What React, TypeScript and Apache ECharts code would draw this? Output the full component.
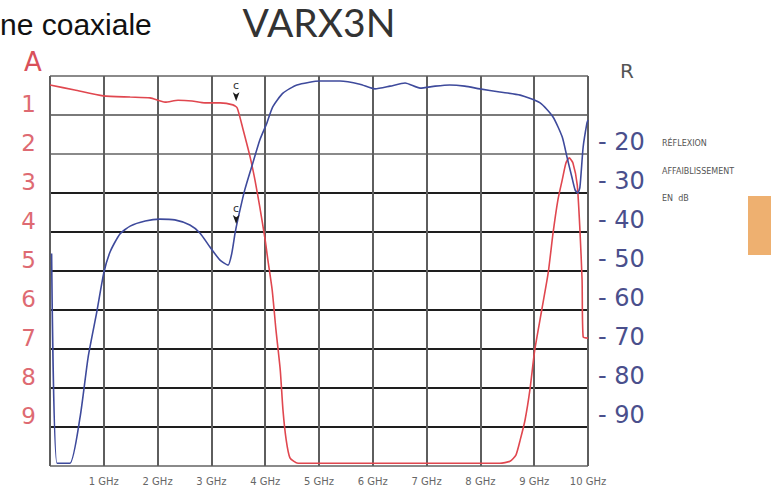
import React, { useEffect, useRef } from 'react';
import * as echarts from 'echarts';

// Frequency ticks (GHz)
const freqTicks = [1, 2, 3, 4, 5, 6, 7, 8, 9, 10];
// Left axis A (attenuation, dB)
const attenuationTicks = [1, 2, 3, 4, 5, 6, 7, 8, 9];
// Right axis R (reflection, dB)
const reflectionTicks = [20, 30, 40, 50, 60, 70, 80, 90];

// Attenuation curve (red): [GHz, A dB]
const attenuationCurve: [number, number][] = [
  [0, 0.23], [0.46, 0.36], [0.99, 0.51], [1.49, 0.54], [1.86, 0.56], [2.14, 0.67],
  [2.38, 0.62], [2.64, 0.64], [2.88, 0.69], [3.16, 0.69], [3.4, 0.74], [3.48, 0.82],
  [3.59, 1.38], [3.72, 2.08], [3.81, 2.67], [3.9, 3.36], [4.0, 4.21], [4.05, 4.72],
  [4.13, 5.49], [4.2, 6.51], [4.28, 7.54], [4.33, 8.56], [4.39, 9.33], [4.46, 9.79],
  [4.61, 9.93], [8.36, 9.93], [8.55, 9.88], [8.66, 9.72], [8.74, 9.33], [8.83, 8.82],
  [8.92, 8.05], [9.01, 7.03], [9.14, 6.0], [9.26, 5.05], [9.35, 4.03], [9.44, 3.18],
  [9.52, 2.67], [9.59, 2.23], [9.65, 2.1], [9.72, 2.23], [9.8, 2.79], [9.85, 3.95],
  [9.89, 5.23], [9.91, 6.69], [10.0, 6.72],
];

// Reflection curve (blue): [GHz, R dB]
const reflectionCurve: [number, number][] = [
  [0.03, 45.5], [0.13, 99.3], [0.37, 99.3], [0.56, 87.4], [0.71, 72.0], [0.87, 60.5],
  [1.0, 50.5], [1.12, 45.0], [1.3, 40.5], [1.49, 38.5], [1.77, 37.2], [2.04, 36.7],
  [2.32, 36.9], [2.6, 38.2], [2.79, 40.3], [2.97, 43.8], [3.16, 47.2], [3.31, 48.5],
  [3.38, 45.4], [3.44, 40.3], [3.49, 36.9], [3.62, 29.2], [3.77, 22.3], [3.9, 16.4],
  [4.03, 12.1], [4.14, 7.9], [4.33, 4.4], [4.59, 2.3], [5.02, 1.3], [5.39, 1.3],
  [5.76, 2.1], [6.04, 3.3], [6.32, 2.6], [6.6, 1.8], [6.88, 3.1], [7.16, 2.6],
  [7.43, 2.3], [7.71, 2.6], [7.99, 3.3], [8.36, 4.1], [8.74, 4.9], [9.11, 6.9],
  [9.35, 10.5], [9.52, 15.6], [9.61, 20.8], [9.7, 25.9], [9.76, 29.2], [9.81, 30.0],
  [9.85, 28.5], [9.91, 18.2], [9.98, 12.1], [10.0, 11.3],
];

// "C" markers
const markerFreq = 3.46;
const markerAttenuation = 0.8;
const markerReflection = 39.5;

const RED = '#e0474f';
const BLUE = '#3e4a9c';

const hGridColors = ['#8a8a8a', '#7a7a7a', '#8a8a8a', '#1e1e1e', '#1e1e1e', '#1e1e1e', '#1e1e1e', '#1e1e1e', '#1e1e1e', '#1e1e1e', '#8a8a8a'];

export default function App() {
  const ref = useRef<HTMLDivElement>(null);
  useEffect(() => {
    document.body.style.margin = '0';
    const chart = echarts.init(ref.current!, null, { renderer: 'svg' });
    const markerStyle = {
      symbol: 'arrow',
      symbolSize: [5, 9],
      symbolRotate: 180,
      symbolOffset: [0, -6],
      itemStyle: { color: '#1a1a1a' },
      label: { show: true, position: 'top', formatter: 'c', fontSize: 11, color: '#333', distance: 1, fontFamily: 'DejaVu Sans' },
    };
    chart.setOption({
      animation: false,
      backgroundColor: '#ffffff',
      grid: { left: 50, right: 183, top: 76, bottom: 26 },
      xAxis: {
        type: 'value', min: 0, max: 10, interval: 1,
        axisLine: { show: false }, axisTick: { show: false },
        splitLine: { show: true, lineStyle: { color: '#5e5e5e', width: 2 } },
        axisLabel: {
          formatter: (v: number) => (freqTicks.includes(v) ? v + ' GHz' : ''),
          color: '#666', fontSize: 10, fontFamily: 'DejaVu Sans', margin: 10,
        },
      },
      yAxis: [
        {
          type: 'value', min: 0, max: 10, interval: 1, inverse: true, position: 'left',
          axisLine: { show: false }, axisTick: { show: false },
          splitLine: { show: true, lineStyle: { color: hGridColors, width: 2 } },
          axisLabel: {
            formatter: (v: number) => (attenuationTicks.includes(v) ? String(v) : ''),
            color: '#de6a72', fontSize: 23, fontFamily: 'DejaVu Sans', verticalAlign: 'bottom', margin: 14,
          },
        },
        {
          type: 'value', min: 0, max: 100, interval: 10, inverse: true, position: 'right',
          axisLine: { show: false }, axisTick: { show: false }, splitLine: { show: false },
          axisLabel: {
            formatter: (v: number) => (reflectionTicks.includes(v) ? '- ' + v : ''),
            color: '#4a4f8c', fontSize: 24, fontFamily: 'DejaVu Sans', verticalAlign: 'bottom', margin: 10,
          },
        },
      ],
      series: [
        {
          type: 'line', name: 'Affaiblissement', yAxisIndex: 0, data: attenuationCurve,
          showSymbol: false, smooth: 0.2, lineStyle: { color: RED, width: 1.6 }, itemStyle: { color: RED },
          markPoint: { ...markerStyle, data: [{ coord: [markerFreq, markerAttenuation] }] },
        },
        {
          type: 'line', name: 'Réflexion', yAxisIndex: 1, data: reflectionCurve,
          showSymbol: false, smooth: 0.2, lineStyle: { color: BLUE, width: 1.6 }, itemStyle: { color: BLUE },
          markPoint: { ...markerStyle, data: [{ coord: [markerFreq, markerReflection] }] },
        },
      ],
      graphic: [
        { type: 'text', left: 0, top: 9, style: { text: 'ne coaxiale', font: '30px "Liberation Sans", Arial, sans-serif', fill: '#111' } },
        { type: 'text', x: 319, y: 22, style: { text: 'VARX3N', font: '39px Lato, "DejaVu Sans", sans-serif', fill: '#333', align: 'center', verticalAlign: 'middle' } },
        { type: 'text', x: 33, y: 62, style: { text: 'A', font: '26px "DejaVu Sans", sans-serif', fill: '#d9505a', align: 'center', verticalAlign: 'middle' } },
        { type: 'text', x: 627, y: 71, style: { text: 'R', font: '20px "DejaVu Sans", sans-serif', fill: '#555', align: 'center', verticalAlign: 'middle' } },
        { type: 'text', x: 662, y: 143, style: { text: 'RÉFLEXION', font: '8px "DejaVu Sans", sans-serif', fill: '#555', verticalAlign: 'middle' } },
        { type: 'text', x: 662, y: 171, style: { text: 'AFFAIBLISSEMENT', font: '8px "DejaVu Sans", sans-serif', fill: '#555', verticalAlign: 'middle' } },
        { type: 'text', x: 662, y: 198, style: { text: 'EN  dB', font: '8px "DejaVu Sans", sans-serif', fill: '#555', verticalAlign: 'middle' } },
        { type: 'rect', shape: { x: 748, y: 196, width: 23, height: 59 }, style: { fill: '#eeb070' } },
      ],
    });
    return () => chart.dispose();
  }, []);
  return <div ref={ref} style={{ width: 771, height: 492 }} />;
}
